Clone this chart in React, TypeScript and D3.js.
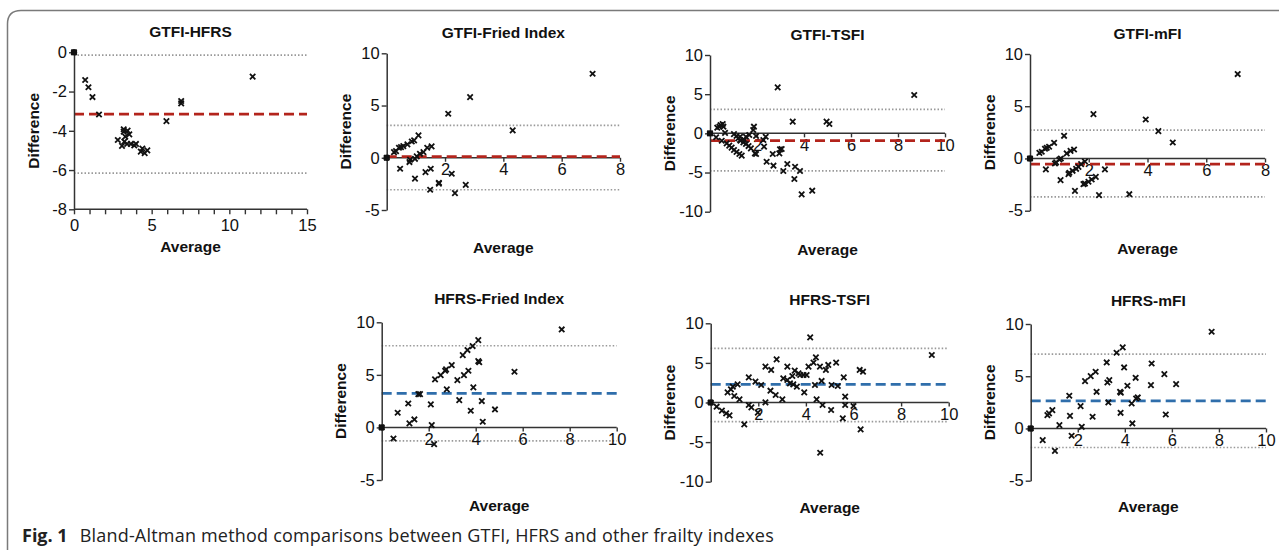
import React, { useEffect, useRef } from 'react';
import * as d3 from 'd3';

// panel titles and Bland-Altman summary lines
const panelTitles = ['GTFI-HFRS', 'GTFI-Fried Index', 'GTFI-TSFI', 'GTFI-mFI', 'HFRS-Fried Index', 'HFRS-TSFI', 'HFRS-mFI'];
const meanDiff = [-3.15, 0.1, -0.94, -0.54, 3.24, 2.29, 2.65];
const upperLoA = [-0.14, 3.1, 3.06, 2.71, 7.77, 6.84, 7.12];
const lowerLoA = [-6.16, -3.06, -4.8, -3.68, -1.27, -2.42, -1.82];
const xMaxes = [15, 8, 10, 8, 10, 10, 10];
const yDomains: [number, number][] = [[-8, 0], [-5, 10], [-10, 10], [-5, 10], [-5, 10], [-10, 10], [-5, 10]];
const yTicks = [[-8, -6, -4, -2, 0], [-5, 0, 5, 10], [-10, -5, 0, 5, 10], [-5, 0, 5, 10], [-5, 0, 5, 10], [-10, -5, 0, 5, 10], [-5, 0, 5, 10]];
const xTicks = [[0, 5, 10, 15], [2, 4, 6, 8], [2, 4, 6, 8, 10], [2, 4, 6, 8], [2, 4, 6, 8, 10], [2, 4, 6, 8, 10], [2, 4, 6, 8, 10]];

// [average, difference]
const gtfiHfrs: [number, number][] = [
  [0, 0], [0.72, -1.41], [0.93, -1.78], [1.19, -2.28], [1.61, -3.17], [3.2, -3.92], [3.2, -4.04],
  [2.82, -4.47], [3.09, -4.77], [3.24, -4.55], [3.3, -4.3], [3.45, -3.99], [3.56, -4.18], [3.42, -4.67],
  [3.66, -4.67], [3.88, -4.75], [3.99, -4.67], [4.3, -5.06], [4.4, -4.9], [4.55, -5.14], [4.72, -5.0],
  [5.95, -3.51], [6.9, -2.6], [6.9, -2.48], [11.5, -1.24],
];
const gtfiFried: [number, number][] = [
  [0, 0], [0.25, 0.54], [0.32, 0.64], [0.42, 0.96], [0.49, 1.02], [0.57, 1.12], [0.71, 1.28], [0.86, 1.56],
  [0.94, 1.66], [1.09, 2.14], [0.46, -1.05], [0.78, -0.41], [0.8, -0.19], [0.97, -0.1], [1.03, 0.13],
  [1.14, 0.38], [1.26, 0.54], [1.39, 0.96], [1.54, 1.09], [0.97, -2.0], [1.33, -1.37], [1.51, -1.05],
  [1.49, -3.06], [1.79, -2.39], [1.79, -2.48], [2.23, -1.53], [2.34, -3.38], [2.11, 4.21], [2.86, 5.81],
  [2.71, -2.59], [4.32, 2.62], [7.06, 8.04],
];
const gtfiTsfi: [number, number][] = [
  [0, 0], [0.26, -0.5], [0.31, 0.72], [0.4, 0.85], [0.45, 1.06], [0.54, 1.19], [0.57, 0.85], [0.5, -0.94],
  [0.64, 0.06], [0.71, -1.28], [0.82, -1.57], [0.92, -1.83], [1.02, -2.13], [1.13, -2.38], [1.25, -2.64],
  [1.35, -2.85], [1.02, -0.1], [1.13, -0.34], [1.2, -0.64], [1.28, -0.43], [1.3, -0.94], [1.42, -1.15],
  [1.53, -1.36], [1.64, -1.62], [1.74, -1.91], [1.28, -0.85], [1.45, -0.85], [1.53, -0.43], [1.67, -0.21],
  [1.84, 0.43], [1.87, 0.85], [1.96, -0.34], [1.91, -2.55], [1.96, -2.64], [2.27, -0.85], [2.3, -1.7],
  [2.37, -0.43], [2.41, -3.62], [2.7, -4.13], [2.67, -2.64], [2.95, -2.55], [2.98, -2.04], [3.05, -2.0],
  [2.88, 5.87], [3.12, -4.81], [3.29, -3.91], [3.52, 1.49], [3.62, -4.26], [3.59, -5.83], [3.83, -4.81],
  [3.9, -7.79], [4.35, -7.32], [4.96, 1.49], [5.08, 1.19], [8.69, 4.89],
];
const gtfiMfi: [number, number][] = [
  [0, 0], [0.32, 0.54], [0.4, 0.64], [0.51, 0.93], [0.57, 1.02], [0.65, 1.12], [0.82, 1.5], [0.54, -1.05],
  [0.85, -0.48], [0.89, -0.38], [1.0, -0.1], [1.05, 0.0], [1.16, 2.17], [1.25, 0.48], [1.38, 0.73],
  [1.5, 0.86], [1.04, -2.07], [1.31, -1.5], [1.34, -1.37], [1.45, -1.18], [1.57, -0.99], [1.65, -0.8],
  [1.74, -0.54], [1.87, -0.29], [1.53, -3.1], [1.82, -2.46], [1.87, -2.4], [1.99, -2.23], [2.1, -2.01],
  [2.24, -1.76], [2.16, 4.25], [2.35, -3.51], [2.55, -1.05], [3.38, -3.42], [3.94, 3.73], [4.37, 2.62],
  [4.86, 1.53], [7.07, 8.08],
];
const hfrsFried: [number, number][] = [
  [0, 0], [0.5, -1.05], [0.68, 1.4], [1.13, 2.28], [1.18, 0.38], [1.39, 0.76], [1.56, 3.17], [1.63, 3.17],
  [2.09, 2.19], [2.13, 0.22], [2.23, -1.59], [2.27, 4.57], [2.51, 4.98], [2.7, 5.39], [2.74, 5.52],
  [2.77, 3.62], [2.98, 5.93], [3.22, 4.5], [3.3, 2.6], [3.45, 6.88], [3.5, 4.98], [3.65, 7.36], [3.69, 5.39],
  [3.79, 1.59], [3.87, 7.74], [3.9, 3.81], [4.11, 8.31], [4.11, 6.31], [4.15, 6.2], [4.26, 2.51],
  [4.3, 0.54], [4.82, 1.71], [5.65, 5.3], [7.66, 9.32],
];
const hfrsTsfi: [number, number][] = [
  [0, 0], [0.25, -0.53], [0.47, -1.03], [0.65, -1.37], [0.79, -1.62], [0.71, 1.28], [0.85, 1.66], [0.93, 2.0],
  [0.99, 0.82], [1.13, 2.29], [1.21, 0.4], [1.41, -2.76], [1.6, 3.18], [1.6, -0.32], [1.71, -0.61],
  [1.88, 2.63], [1.98, -1.28], [2.12, 2.21], [2.3, 0.02], [2.3, 4.53], [2.54, 4.11], [2.51, 1.49],
  [2.73, 0.95], [2.77, 5.45], [3.01, 0.4], [3.05, 3.05], [3.22, 4.53], [3.22, 2.84], [3.33, 2.42],
  [3.43, 3.35], [3.47, 2.29], [3.53, 4.02], [3.62, 2.0], [3.69, 3.68], [3.76, 3.47], [3.9, 3.47],
  [3.93, 1.28], [4.03, 3.47], [4.11, 4.53], [4.18, 8.23], [4.32, 5.03], [4.38, 2.21], [4.42, 5.7],
  [4.45, 0.4], [4.59, 4.53], [4.66, 2.72], [4.7, -0.32], [4.6, -6.34], [4.84, 4.11], [4.94, 4.74],
  [5.08, 2.21], [5.06, -0.95], [5.27, 5.03], [5.34, 2.08], [5.59, 3.18], [5.65, 0.74], [5.65, -0.32],
  [5.55, -2.0], [6.0, -0.44], [6.26, 4.11], [6.4, 3.89], [6.3, -3.39], [9.29, 6.0],
];
const hfrsMfi: [number, number][] = [
  [0, 0], [0.51, -1.12], [0.71, 1.28], [0.78, 1.45], [0.92, 1.76], [1.03, -2.14], [1.22, 0.32], [1.64, 3.13],
  [1.67, 1.21], [1.74, -0.7], [2.12, 2.14], [2.17, 0.16], [2.31, 4.53], [2.55, 5.01], [2.63, 1.12],
  [2.76, 5.43], [2.8, 3.51], [3.23, 6.32], [3.26, 4.4], [3.34, 4.63], [3.3, 2.49], [3.65, 7.25], [3.8, 3.51],
  [3.83, 3.42], [3.82, 1.5], [3.91, 7.76], [3.97, 5.84], [4.11, 4.09], [4.29, 2.39], [4.32, 0.48],
  [4.46, 4.85], [4.48, 2.87], [4.55, 2.97], [5.14, 6.22], [5.11, 4.15], [5.68, 5.2], [5.74, 1.34],
  [6.18, 4.25], [7.69, 9.26],
];
const panelPoints = [gtfiHfrs, gtfiFried, gtfiTsfi, gtfiMfi, hfrsFried, hfrsTsfi, hfrsMfi];

// pixel boxes of each plot area: left, right, top, bottom
const boxes = [
  [74, 307, 52.3, 209.3],
  [386.7, 620, 53.3, 210],
  [710, 945, 55, 211.7],
  [1030, 1265, 54, 210.7],
  [381.7, 616.7, 322.3, 480],
  [710.7, 948.7, 323.3, 481.7],
  [1030.7, 1266, 324, 480.7],
];

const W = 1279;
const H = 550;
const FONT = '"Liberation Sans", Arial, Helvetica, sans-serif';

const App = () => {
  const ref = useRef<SVGSVGElement>(null);

  useEffect(() => {
    const svg = d3.select(ref.current);
    svg.selectAll('*').remove();

    // frame
    svg.append('path')
      .attr('d', `M7.5,${H} L7.5,24 Q7.5,10.5 21,10.5 L${W},10.5`)
      .attr('fill', 'none')
      .attr('stroke', '#7a7a7a')
      .attr('stroke-width', 1.5);

    panelTitles.forEach((title, i) => {
      const [left, right, top, bottom] = boxes[i];
      const x = d3.scaleLinear().domain([0, xMaxes[i]]).range([left, right]);
      const y = d3.scaleLinear().domain(yDomains[i]).range([bottom, top]);
      const lineColor = i < 4 ? '#b3241c' : '#2f6eab';
      const g = svg.append('g').attr('font-family', FONT);
      const isFirst = i === 0;
      const topRow = i < 4;
      const xAxisY = isFirst ? y(yDomains[i][0]) : y(0);
      const fmt = (d: d3.NumberValue) => String(d);

      // limits of agreement
      [upperLoA[i], lowerLoA[i]].forEach(v => {
        g.append('line')
          .attr('x1', x(0)).attr('x2', x(xMaxes[i]))
          .attr('y1', y(v)).attr('y2', y(v))
          .attr('stroke', '#999')
          .attr('stroke-width', 1.7)
          .attr('stroke-dasharray', '1.5,2');
      });

      // x axis
      const xAxis = g.append('g').attr('transform', `translate(0,${xAxisY})`);
      if (isFirst) {
        xAxis.call(d3.axisBottom(x).tickValues(d3.range(0, 16)).tickSize(5).tickPadding(5).tickSizeOuter(0)
          .tickFormat(d => (+d % 5 === 0 ? String(d) : '')));
      } else {
        xAxis.call(d3.axisBottom(x).tickValues(xTicks[i]).tickSize(4).tickPadding(2).tickSizeOuter(0).tickFormat(fmt));
      }
      xAxis.select('.domain').attr('stroke', '#333').attr('stroke-width', 1.5)
        .attr('d', `M${x(0)},0H${x(xMaxes[i])}`);
      xAxis.selectAll('.tick line').attr('stroke', '#333').attr('stroke-width', 1.4);
      xAxis.selectAll('text').attr('font-size', 16.5).attr('fill', '#111').attr('font-family', FONT);

      // mean difference
      g.append('line')
        .attr('x1', x(0)).attr('x2', x(xMaxes[i]))
        .attr('y1', y(meanDiff[i])).attr('y2', y(meanDiff[i]))
        .attr('stroke', lineColor)
        .attr('stroke-width', 2.8)
        .attr('stroke-dasharray', '10,5');

      // y axis
      const yAxis = g.append('g').attr('transform', `translate(${left},0)`)
        .call(d3.axisLeft(y).tickValues(yTicks[i]).tickSize(5).tickPadding(2).tickSizeOuter(0).tickFormat(fmt));
      yAxis.select('.domain').attr('stroke', '#333').attr('stroke-width', 1.5);
      yAxis.selectAll('.tick line').attr('stroke', '#333').attr('stroke-width', 1.4);
      yAxis.selectAll('text').attr('font-size', 16.5).attr('fill', '#111').attr('font-family', FONT);

      // points
      const s = 2.7;
      panelPoints[i].forEach(([a, d]) => {
        const px = x(a);
        const py = y(d);
        if (a === 0 && d === 0) {
          g.append('circle').attr('cx', px).attr('cy', py).attr('r', 3.2).attr('fill', '#111');
        }
        g.append('path')
          .attr('d', `M${px - s},${py - s}L${px + s},${py + s}M${px - s},${py + s}L${px + s},${py - s}`)
          .attr('stroke', '#111')
          .attr('stroke-width', 1.8)
          .attr('fill', 'none');
      });

      // labels
      const midX = (left + right) / 2;
      g.append('text')
        .attr('x', midX).attr('y', top - (topRow ? 15 : 18))
        .attr('text-anchor', 'middle')
        .attr('font-size', 15.5).attr('font-weight', 'bold').attr('fill', '#111')
        .text(title);
      g.append('text')
        .attr('x', midX).attr('y', bottom + (topRow ? 43 : 31))
        .attr('text-anchor', 'middle')
        .attr('font-size', 15.5).attr('font-weight', 'bold').attr('fill', '#111')
        .text('Average');
      g.append('text')
        .attr('transform', `translate(${left - 41},${(top + bottom) / 2}) rotate(-90)`)
        .attr('text-anchor', 'middle')
        .attr('dominant-baseline', 'central')
        .attr('font-size', 15.5).attr('font-weight', 'bold').attr('fill', '#111')
        .text('Difference');
    });

    // caption
    const cap = svg.append('text')
      .attr('x', 22).attr('y', 542)
      .attr('font-family', '"Open Sans", "Noto Sans", sans-serif')
      .attr('font-size', 18)
      .attr('fill', '#222');
    cap.append('tspan').attr('font-weight', 'bold').text('Fig. 1');
    cap.append('tspan').attr('dx', 12).attr('letter-spacing', 0.2)
      .text('Bland-Altman method comparisons between GTFI, HFRS and other frailty indexes');
  }, []);

  return (
    <svg ref={ref} width={W} height={H} style={{ position: 'absolute', left: 0, top: 0, background: '#fff' }} />
  );
};

export default App;
